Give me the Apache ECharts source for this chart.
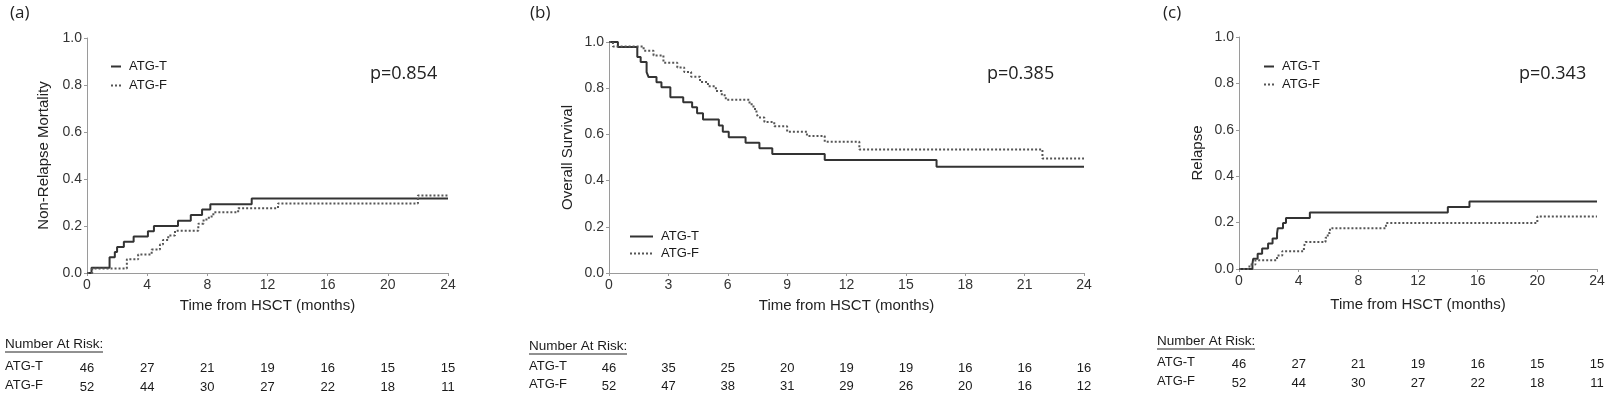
<!DOCTYPE html>
<html>
<head>
<meta charset="utf-8">
<script src="https://cdn.jsdelivr.net/npm/echarts@6/dist/echarts.min.js"></script>
<style>
html, body { margin: 0; padding: 0; background: #fff; }
#chart { width: 1609px; height: 398px; }
</style>
</head>
<body>
<div id="chart"></div>
<script>
// (a) non-relapse mortality, [months, cumulative incidence]
const nrmT = [[0, 0], [0.3, 0.022], [1.5, 0.067], [1.85, 0.089], [2.0, 0.111], [2.45, 0.133], [3.1, 0.155],
  [4.05, 0.178], [4.45, 0.2], [6.05, 0.222], [6.9, 0.247], [7.65, 0.27], [8.2, 0.293], [10.95, 0.317], [24, 0.317]]
const nrmF = [[0, 0], [0.35, 0.019], [2.65, 0.058], [3.4, 0.079], [4.3, 0.1], [4.85, 0.121], [5.05, 0.14],
  [5.4, 0.16], [5.85, 0.18], [7.4, 0.21], [7.75, 0.228], [8.1, 0.24], [8.4, 0.258], [10.05, 0.276],
  [12.7, 0.296], [22.0, 0.33], [24, 0.33]]
// (b) overall survival
const osT = [[0, 1], [0.45, 0.978], [1.43, 0.935], [1.6, 0.913], [1.9, 0.87], [2.0, 0.848], [2.4, 0.826],
  [2.65, 0.804], [3.1, 0.761], [3.75, 0.739], [4.2, 0.717], [4.45, 0.692], [4.75, 0.665], [5.55, 0.638],
  [5.75, 0.612], [6.05, 0.588], [6.9, 0.564], [7.6, 0.54], [8.25, 0.515], [10.9, 0.489], [16.55, 0.46], [24, 0.46]]
const osF = [[0, 1], [0.2, 0.981], [1.75, 0.962], [2.25, 0.942], [2.75, 0.91], [3.45, 0.89], [3.8, 0.87],
  [4.15, 0.85], [4.6, 0.827], [5.0, 0.808], [5.4, 0.788], [5.7, 0.769], [5.9, 0.75], [7.1, 0.73], [7.3, 0.71],
  [7.45, 0.69], [7.55, 0.673], [7.85, 0.654], [8.35, 0.635], [9.0, 0.612], [10.0, 0.593], [10.9, 0.568],
  [12.65, 0.535], [21.9, 0.496], [24, 0.496]]
// (c) relapse
const relT = [[0, 0], [0.9, 0.022], [0.95, 0.044], [1.25, 0.066], [1.55, 0.088], [1.95, 0.11], [2.25, 0.132],
  [2.55, 0.154], [2.6, 0.176], [2.95, 0.198], [3.15, 0.22], [4.75, 0.243], [14.0, 0.267], [15.45, 0.291], [24, 0.291]]
const relF = [[0, 0], [0.7, 0.019], [1.1, 0.038], [2.55, 0.058], [2.9, 0.077], [4.35, 0.096], [4.45, 0.116],
  [5.8, 0.135], [5.95, 0.155], [6.1, 0.176], [9.85, 0.198], [20.0, 0.226], [24, 0.226]]

// number at risk, one value per x tick
const riskNrmT = [46, 27, 21, 19, 16, 15, 15]
const riskNrmF = [52, 44, 30, 27, 22, 18, 11]
const riskOsT = [46, 35, 25, 20, 19, 19, 16, 16, 16]
const riskOsF = [52, 47, 38, 31, 29, 26, 20, 16, 12]
const riskRelT = [46, 27, 21, 19, 16, 15, 15]
const riskRelF = [52, 44, 30, 27, 22, 18, 11]

const pValues = ['p=0.854', 'p=0.385', 'p=0.343']
const groups = ['ATG-T', 'ATG-F']

const sans = '"Liberation Sans", Arial, sans-serif'
const calib = '"Open Sans", sans-serif'

const panels = [
  { label: '(a)', labelX: 10, grid: { left: 87, top: 38, width: 361, height: 235 }, interval: 4,
    yName: 'Non-Relapse Mortality', yGap: 36, xGap: 25, T: nrmT, F: nrmF, riskT: riskNrmT, riskF: riskNrmF,
    pX: 370, legend: { left: 105, top: 55, w: 10, gap: 6 }, tableX: 5, headY: 345 },
  { label: '(b)', labelX: 530, grid: { left: 609, top: 42, width: 475, height: 231 }, interval: 3,
    yName: 'Overall Survival', yGap: 34, xGap: 25, T: osT, F: osF, riskT: riskOsT, riskF: riskOsF,
    pX: 987, legend: { left: 624, top: 225, w: 23, gap: 4 }, tableX: 529, headY: 347 },
  { label: '(c)', labelX: 1163, grid: { left: 1239, top: 37, width: 358, height: 232 }, interval: 4,
    yName: 'Relapse', yGap: 34, xGap: 28, T: relT, F: relF, riskT: riskRelT, riskF: riskRelF,
    pX: 1519, legend: { left: 1258, top: 55, w: 10, gap: 5 }, tableX: 1157, headY: 342 }
]

const grid = []
const xAxis = []
const yAxis = []
const series = []
const legend = []
const graphic = []

panels.forEach((p, i) => {
  grid.push(Object.assign({ containLabel: false, outerBoundsMode: 'none' }, p.grid))
  const bottom = p.grid.top + p.grid.height
  xAxis.push({
    type: 'value', gridIndex: i, min: 0, max: 24, interval: p.interval,
    name: 'Time from HSCT (months)', nameLocation: 'middle', nameGap: p.xGap,
    nameTextStyle: { fontFamily: sans, fontSize: 15, color: '#222' },
    axisLine: { show: true, lineStyle: { color: '#9a9a9a', width: 1 } },
    axisTick: { show: true, length: 3, lineStyle: { color: '#9a9a9a' } },
    axisLabel: { fontFamily: sans, fontSize: 14, color: '#333', margin: 5, showMinLabel: true, showMaxLabel: true },
    splitLine: { show: false }
  })
  // risk table rows drawn as label-only axes under the plot
  ;[p.riskT, p.riskF].forEach((row, r) => {
    xAxis.push({
      type: 'value', gridIndex: i, min: 0, max: 24, interval: p.interval, position: 'bottom',
      offset: (r === 0 ? 95 : 114) + (i === 1 && r === 1 ? -1 : 0),
      axisLine: { show: false }, axisTick: { show: false }, splitLine: { show: false },
      axisLabel: {
        fontFamily: sans, fontSize: 13, color: '#1a1a1a', margin: 0, verticalAlign: 'middle',
        showMinLabel: true, showMaxLabel: true,
        formatter: v => String(row[Math.round(v / p.interval)])
      }
    })
  })
  yAxis.push({
    type: 'value', gridIndex: i, min: 0, max: 1, interval: 0.2,
    name: p.yName, nameLocation: 'middle', nameGap: p.yGap,
    nameTextStyle: { fontFamily: sans, fontSize: 15, color: '#222' },
    axisLine: { show: true, lineStyle: { color: '#9a9a9a', width: 1 } },
    axisTick: { show: true, length: 3, lineStyle: { color: '#9a9a9a' } },
    axisLabel: { fontFamily: sans, fontSize: 14, color: '#333', margin: 5, formatter: v => v.toFixed(1) },
    splitLine: { show: false }
  })
  series.push({
    name: groups[0], type: 'line', step: 'end', symbol: 'none', xAxisIndex: i * 3, yAxisIndex: i,
    data: p.T, lineStyle: { color: '#333', width: 2 }, itemStyle: { color: '#333' }, z: 3
  })
  series.push({
    name: groups[1], type: 'line', step: 'end', symbol: 'none', xAxisIndex: i * 3, yAxisIndex: i,
    data: p.F, lineStyle: { color: '#555', width: 2, type: [2, 2] }, itemStyle: { color: '#555' }
  })
  legend.push({
    data: groups, orient: 'vertical', left: p.legend.left, top: p.legend.top,
    itemWidth: p.legend.w, itemHeight: 14, itemGap: p.legend.gap, selectedMode: false,
    itemStyle: { opacity: 0 },
    textStyle: { fontFamily: sans, fontSize: 13, color: '#1a1a1a', padding: [0, 0, 0, 3] }
  })
  graphic.push(
    { type: 'text', left: p.labelX, top: 5, style: { text: p.label, font: '17px ' + calib, fill: '#222' } },
    { type: 'text', left: p.pX, top: 65, style: { text: pValues[i], font: '18px ' + calib, fill: '#222' } },
    { type: 'text', left: p.tableX, top: p.headY - 8, style: { text: 'Number At Risk:', font: '13.5px ' + sans, fill: '#1a1a1a' } },
    { type: 'line', shape: { x1: p.tableX, y1: p.headY + 7, x2: p.tableX + 98, y2: p.headY + 7 }, style: { stroke: '#222', lineWidth: 1 } },
    { type: 'text', left: p.tableX, top: bottom + 95 - 8, style: { text: groups[0], font: '13px ' + sans, fill: '#1a1a1a' } },
    { type: 'text', left: p.tableX, top: bottom + 114 - 8 - (i === 1 ? 1 : 0), style: { text: groups[1], font: '13px ' + sans, fill: '#1a1a1a' } }
  )
})

const chart = echarts.init(document.getElementById('chart'))
chart.setOption({
  backgroundColor: '#fff',
  animation: false,
  grid: grid,
  xAxis: xAxis,
  yAxis: yAxis,
  legend: legend,
  series: series,
  graphic: graphic
})
</script>
</body>
</html>
